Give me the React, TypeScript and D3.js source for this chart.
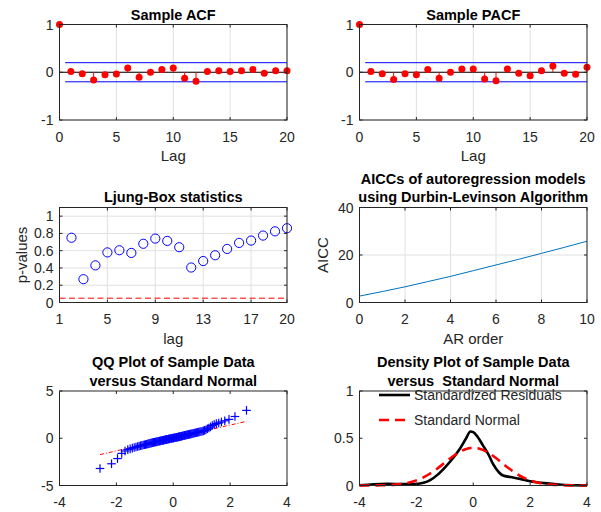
import React from "react";
import * as d3 from "d3";

const FONT = "'Liberation Sans', Arial, Helvetica, sans-serif";
const AXIS = "#262626";
const GRID = "#e0e0e0";

// ---------- data ----------
const acfLags = [0, 1, 2, 3, 4, 5, 6, 7, 8, 9, 10, 11, 12, 13, 14, 15, 16, 17, 18, 19, 20];
const acfValues = [1, 0.015, -0.03, -0.16, -0.05, -0.035, 0.09, -0.105, 0.0, 0.06, 0.09, -0.125, -0.19, 0.015, 0.03, 0.015, 0.03, 0.06, -0.02, 0.03, 0.03];
const pacfValues = [1, 0.015, -0.03, -0.15, -0.03, -0.05, 0.06, -0.125, 0.0, 0.07, 0.07, -0.14, -0.18, 0.07, -0.02, -0.075, 0.03, 0.13, -0.02, -0.04, 0.105];
const confBound = 0.2;

const lbLags = [2, 3, 4, 5, 6, 7, 8, 9, 10, 11, 12, 13, 14, 15, 16, 17, 18, 19, 20];
const lbPValues = [0.75, 0.27, 0.43, 0.58, 0.605, 0.574, 0.68, 0.74, 0.713, 0.64, 0.405, 0.48, 0.547, 0.62, 0.69, 0.717, 0.775, 0.824, 0.86];
const lbAlpha = 0.05;

const arOrders = [0, 1, 2, 3, 4, 5, 6, 7, 8, 9, 10];
const aiccValues = [2.7, 4.6, 6.6, 8.8, 11.0, 13.4, 15.8, 18.2, 20.7, 23.2, 25.8];

// sorted sample data for the QQ plot (100 points)
const qqSample = [
  -3.2, -2.7, -2.15, -1.6, -1.35, -1.2, -1.12, -1.05, -0.98, -0.93,
  -0.88, -0.83, -0.79, -0.75, -0.72, -0.69, -0.66, -0.63, -0.6, -0.57,
  -0.54, -0.52, -0.49, -0.46, -0.44, -0.42, -0.4, -0.38, -0.36, -0.34,
  -0.32, -0.3, -0.28, -0.26, -0.24, -0.22, -0.21, -0.19, -0.17, -0.15,
  -0.13, -0.12, -0.1, -0.08, -0.07, -0.05, -0.03, -0.02, 0.0, 0.01,
  0.03, 0.05, 0.06, 0.08, 0.1, 0.11, 0.13, 0.15, 0.17, 0.18,
  0.2, 0.22, 0.24, 0.26, 0.28, 0.3, 0.32, 0.34, 0.36, 0.38,
  0.4, 0.42, 0.44, 0.46, 0.48, 0.5, 0.53, 0.55, 0.58, 0.6,
  0.63, 0.65, 0.68, 0.71, 0.74, 0.78, 0.83, 0.9, 1.0, 1.08,
  1.2, 1.35, 1.45, 1.55, 1.62, 1.72, 1.85, 2.0, 2.3, 2.95,
];

const densX = [-4, -3.5, -3, -2.5, -2, -1.75, -1.5, -1.25, -1, -0.75, -0.5, -0.25, -0.1, 0, 0.15, 0.35, 0.55, 0.7, 0.9, 1.05, 1.3, 1.65, 2, 2.5, 3, 3.5, 4];
const densY = [0.002, 0.014, 0.018, 0.015, 0.016, 0.028, 0.06, 0.115, 0.19, 0.275, 0.375, 0.5, 0.572, 0.565, 0.515, 0.42, 0.32, 0.225, 0.14, 0.105, 0.09, 0.07, 0.045, 0.025, 0.01, 0.003, 0.001];

const normX = [-4, -3.75, -3.5, -3.25, -3, -2.75, -2.5, -2.25, -2, -1.75, -1.5, -1.25, -1, -0.75, -0.5, -0.25, 0, 0.25, 0.5, 0.75, 1, 1.25, 1.5, 1.75, 2, 2.25, 2.5, 2.75, 3, 3.25, 3.5, 3.75, 4];
const normY = [0.0001, 0.0004, 0.0009, 0.002, 0.0044, 0.0091, 0.0175, 0.0317, 0.054, 0.0863, 0.1295, 0.1826, 0.242, 0.3011, 0.3521, 0.3867, 0.3989, 0.3867, 0.3521, 0.3011, 0.242, 0.1826, 0.1295, 0.0863, 0.054, 0.0317, 0.0175, 0.0091, 0.0044, 0.002, 0.0009, 0.0004, 0.0001];

const acfXTicks = [0, 5, 10, 15, 20];
const acfYTicks = [-1, 0, 1];
const lbXTicks = [1, 5, 9, 13, 17, 20];
const lbYTicks = [0, 0.2, 0.4, 0.6, 0.8, 1];
const aiccXTicks = [0, 2, 4, 6, 8, 10];
const aiccYTicks = [0, 20, 40];
const qqXTicks = [-4, -2, 0, 2, 4];
const qqYTicks = [-5, 0, 5];
const densXTicks = [-4, -2, 0, 2, 4];
const densYTicks = [0, 0.5, 1];

// inverse standard normal CDF (Acklam) for QQ theoretical quantiles
function probit(p: number): number {
  const a = [-39.69683028665376, 220.9460984245205, -275.9285104469687, 138.357751867269, -30.66479806614716, 2.506628277459239];
  const b = [-54.47609879822406, 161.5858368580409, -155.6989798598866, 66.80131188771972, -13.28068155288572];
  const c = [-0.007784894002430293, -0.3223964580411365, -2.400758277161838, -2.549732539343734, 4.374664141464968, 2.938163982698783];
  const d = [0.007784695709041462, 0.3224671290700398, 2.445134137142996, 3.754408661907416];
  const pl = 0.02425;
  if (p < pl) {
    const q = Math.sqrt(-2 * Math.log(p));
    return (((((c[0] * q + c[1]) * q + c[2]) * q + c[3]) * q + c[4]) * q + c[5]) / ((((d[0] * q + d[1]) * q + d[2]) * q + d[3]) * q + 1);
  }
  if (p <= 1 - pl) {
    const q = p - 0.5;
    const r = q * q;
    return ((((((a[0] * r + a[1]) * r + a[2]) * r + a[3]) * r + a[4]) * r + a[5]) * q) / (((((b[0] * r + b[1]) * r + b[2]) * r + b[3]) * r + b[4]) * r + 1);
  }
  const q = Math.sqrt(-2 * Math.log(1 - p));
  return -(((((c[0] * q + c[1]) * q + c[2]) * q + c[3]) * q + c[4]) * q + c[5]) / ((((d[0] * q + d[1]) * q + d[2]) * q + d[3]) * q + 1);
}

// ---------- layout ----------
const COLS = [
  [59.5, 287],
  [359.5, 587],
];
const ROWS = [
  [24.5, 120],
  [207.5, 302.5],
  [391, 485.5],
];

type Sc = d3.ScaleLinear<number, number>;

function Grid({ x, y, xt, yt }: { x: Sc; y: Sc; xt: number[]; yt: number[] }) {
  const [x0, x1] = x.range();
  const [y1, y0] = y.range();
  return (
    <g stroke={GRID} strokeWidth={1}>
      {xt.map((t, i) => (
        <line key={"gx" + i} x1={x(t)} x2={x(t)} y1={y0} y2={y1} />
      ))}
      {yt.map((t, i) => (
        <line key={"gy" + i} x1={x0} x2={x1} y1={y(t)} y2={y(t)} />
      ))}
    </g>
  );
}

function Axes({
  x,
  y,
  xt,
  yt,
  xLabel,
  yLabel,
  yLabelX,
  titles,
  titleY,
}: {
  x: Sc;
  y: Sc;
  xt: number[];
  yt: number[];
  xLabel?: string;
  yLabel?: string;
  yLabelX?: number;
  titles: string[];
  titleY: number;
}) {
  const [x0, x1] = x.range();
  const [y1, y0] = y.range();
  const tl = 3;
  const cx = (x0 + x1) / 2;
  return (
    <g>
      <rect x={x0} y={y0} width={x1 - x0} height={y1 - y0} fill="none" stroke={AXIS} strokeWidth={1} />
      <g stroke={AXIS} strokeWidth={1}>
        {xt.map((t, i) => (
          <g key={"tx" + i}>
            <line x1={x(t)} x2={x(t)} y1={y1} y2={y1 - tl} />
            <line x1={x(t)} x2={x(t)} y1={y0} y2={y0 + tl} />
          </g>
        ))}
        {yt.map((t, i) => (
          <g key={"ty" + i}>
            <line x1={x0} x2={x0 + tl} y1={y(t)} y2={y(t)} />
            <line x1={x1} x2={x1 - tl} y1={y(t)} y2={y(t)} />
          </g>
        ))}
      </g>
      <g fill={AXIS} fontSize={14}>
        {xt.map((t, i) => (
          <text key={"lx" + i} x={x(t)} y={y1 + 21.5} textAnchor="middle">
            {String(t)}
          </text>
        ))}
        {yt.map((t, i) => (
          <text key={"ly" + i} x={x0 - 6} y={y(t) + 5} textAnchor="end">
            {String(t)}
          </text>
        ))}
      </g>
      {xLabel && (
        <text x={cx} y={y1 + 41} textAnchor="middle" fontSize={15} fill={AXIS}>
          {xLabel}
        </text>
      )}
      {yLabel && (
        <text
          transform={`translate(${yLabelX},${(y0 + y1) / 2}) rotate(-90)`}
          textAnchor="middle"
          fontSize={15}
          fill={AXIS}
        >
          {yLabel}
        </text>
      )}
      {titles.map((s, i) => (
        <text
          key={"t" + i}
          x={cx}
          y={titleY + i * 18.5}
          textAnchor="middle"
          fontSize={14.5}
          fontWeight="bold"
          fill="#000"
          style={{ whiteSpace: "pre" }}
        >
          {s}
        </text>
      ))}
    </g>
  );
}

function StemPanel({ col, values, title }: { col: number; values: number[]; title: string }) {
  const x = d3.scaleLinear().domain([0, 20]).range(COLS[col]);
  const y = d3.scaleLinear().domain([-1, 1]).range([ROWS[0][1], ROWS[0][0]]);
  return (
    <g>
      <Grid x={x} y={y} xt={acfXTicks} yt={acfYTicks} />
      <line x1={x(0)} x2={x(20)} y1={y(0)} y2={y(0)} stroke="#000" strokeWidth={1.2} />
      <line x1={x(0.5)} x2={x(20)} y1={y(confBound)} y2={y(confBound)} stroke="#0000ff" strokeWidth={1} />
      <line x1={x(0.5)} x2={x(20)} y1={y(-confBound)} y2={y(-confBound)} stroke="#0000ff" strokeWidth={1} />
      {acfLags.map((l, i) => (
        <line key={"s" + i} x1={x(l)} x2={x(l)} y1={y(0)} y2={y(values[i])} stroke="#ff0000" strokeWidth={1} />
      ))}
      {acfLags.map((l, i) => (
        <circle key={"c" + i} cx={x(l)} cy={y(values[i])} r={3.5} fill="#ff0000" />
      ))}
      <Axes x={x} y={y} xt={acfXTicks} yt={acfYTicks} xLabel="Lag" titles={[title]} titleY={20} />
    </g>
  );
}

function LjungBox() {
  const x = d3.scaleLinear().domain([1, 20]).range(COLS[0]);
  const y = d3.scaleLinear().domain([0, 1.1]).range([ROWS[1][1], ROWS[1][0]]);
  return (
    <g>
      <Grid x={x} y={y} xt={lbXTicks} yt={lbYTicks} />
      <line x1={x(1)} x2={x(20)} y1={y(lbAlpha)} y2={y(lbAlpha)} stroke="#ff0000" strokeWidth={1} strokeDasharray="6,3.5" />
      {lbLags.map((l, i) => (
        <circle key={i} cx={x(l)} cy={y(lbPValues[i])} r={4.6} fill="none" stroke="#0000ff" strokeWidth={1} />
      ))}
      <Axes
        x={x}
        y={y}
        xt={lbXTicks}
        yt={lbYTicks}
        xLabel="lag"
        yLabel="p-values"
        yLabelX={27}
        titles={["Ljung-Box statistics"]}
        titleY={202}
      />
    </g>
  );
}

function Aicc() {
  const x = d3.scaleLinear().domain([0, 10]).range(COLS[1]);
  const y = d3.scaleLinear().domain([0, 40]).range([ROWS[1][1], ROWS[1][0]]);
  const line = d3
    .line<number>()
    .x((_, i) => x(arOrders[i]))
    .y((v) => y(v));
  return (
    <g>
      <Grid x={x} y={y} xt={aiccXTicks} yt={aiccYTicks} />
      <path d={line(aiccValues) || ""} fill="none" stroke="#0072bd" strokeWidth={1} />
      <Axes
        x={x}
        y={y}
        xt={aiccXTicks}
        yt={aiccYTicks}
        xLabel="AR order"
        yLabel="AICC"
        yLabelX={328}
        titles={["AICCs of autoregression models", "using Durbin-Levinson Algorithm"]}
        titleY={183.5}
      />
    </g>
  );
}

function QQ() {
  const x = d3.scaleLinear().domain([-4, 4]).range(COLS[0]);
  const y = d3.scaleLinear().domain([-5, 5]).range([ROWS[2][1], ROWS[2][0]]);
  const n = qqSample.length;
  const theo = qqSample.map((_, i) => probit((i + 0.5) / n));
  const q1s = d3.quantile(qqSample, 0.25) as number;
  const q3s = d3.quantile(qqSample, 0.75) as number;
  const q1t = d3.quantile(theo, 0.25) as number;
  const q3t = d3.quantile(theo, 0.75) as number;
  const slope = (q3s - q1s) / (q3t - q1t);
  const icpt = q1s - slope * q1t;
  const tmin = theo[0];
  const tmax = theo[n - 1];
  const s = 4.3;
  return (
    <g>
      <line
        x1={x(tmin)}
        x2={x(tmax)}
        y1={y(icpt + slope * tmin)}
        y2={y(icpt + slope * tmax)}
        stroke="#ff0000"
        strokeWidth={1}
        strokeDasharray="4,2,1,2"
      />
      <g stroke="#0000ff" strokeWidth={1.2}>
        {qqSample.map((v, i) => {
          const px = x(theo[i]);
          const py = y(v);
          return (
            <g key={i}>
              <line x1={px - s} x2={px + s} y1={py} y2={py} />
              <line x1={px} x2={px} y1={py - s} y2={py + s} />
            </g>
          );
        })}
      </g>
      <Axes
        x={x}
        y={y}
        xt={qqXTicks}
        yt={qqYTicks}
        titles={["QQ Plot of Sample Data", "versus Standard Normal"]}
        titleY={367}
      />
    </g>
  );
}

function Density() {
  const x = d3.scaleLinear().domain([-4, 4]).range(COLS[1]);
  const y = d3.scaleLinear().domain([0, 1]).range([ROWS[2][1], ROWS[2][0]]);
  const dl = d3
    .line<number>()
    .x((_, i) => x(densX[i]))
    .y((v) => y(v))
    .curve(d3.curveMonotoneX);
  const nl = d3
    .line<number>()
    .x((_, i) => x(normX[i]))
    .y((v) => y(v))
    .curve(d3.curveMonotoneX);
  const lx0 = 379;
  const lx1 = 410;
  return (
    <g>
      <path d={dl(densY) || ""} fill="none" stroke="#000" strokeWidth={2.6} />
      <path d={nl(normY) || ""} fill="none" stroke="#ff0000" strokeWidth={2.6} strokeDasharray="10,6" />
      <Axes
        x={x}
        y={y}
        xt={densXTicks}
        yt={densYTicks}
        titles={["Density Plot of Sample Data", "versus  Standard Normal"]}
        titleY={367}
      />
      <line x1={lx0} x2={lx1} y1={395} y2={395} stroke="#000" strokeWidth={2.6} />
      <text x={414} y={400} fontSize={14} fill={AXIS}>
        Standardized Residuals
      </text>
      <line x1={lx0} x2={lx1} y1={420} y2={420} stroke="#ff0000" strokeWidth={2.6} strokeDasharray="10,6" />
      <text x={414} y={425} fontSize={14} fill={AXIS}>
        Standard Normal
      </text>
    </g>
  );
}

export default function App() {
  return (
    <svg
      width={601}
      height={512}
      viewBox="0 0 601 512"
      style={{ position: "absolute", left: 0, top: 0, background: "#fff" }}
      fontFamily={FONT}
    >
      <rect width={601} height={512} fill="#fff" />
      <StemPanel col={0} values={acfValues} title="Sample ACF" />
      <StemPanel col={1} values={pacfValues} title="Sample PACF" />
      <LjungBox />
      <Aicc />
      <QQ />
      <Density />
    </svg>
  );
}
